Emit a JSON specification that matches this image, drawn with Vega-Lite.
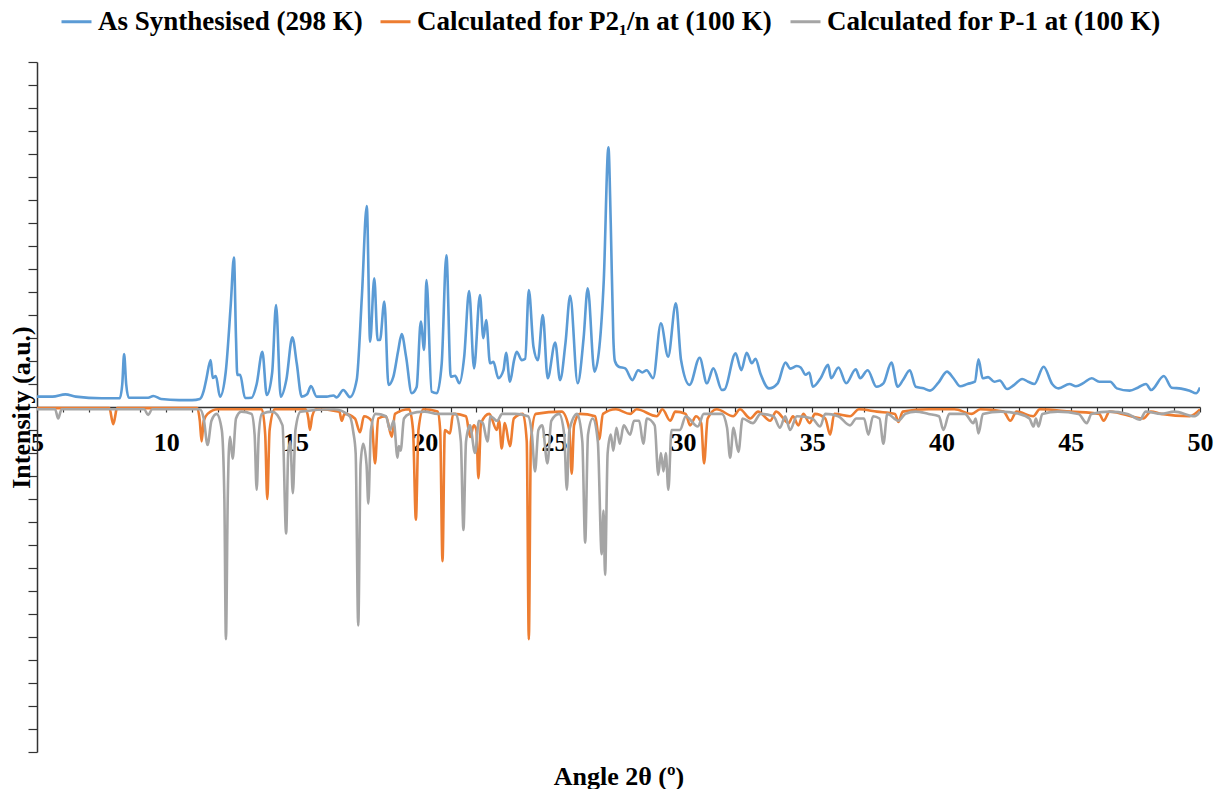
{
  "$schema": "https://vega.github.io/schema/vega-lite/v6.json",
  "width": 1163,
  "height": 690,
  "autosize": {"type": "none"},
  "padding": {"left": 37, "top": 62, "right": 18, "bottom": 37},
  "background": "white",
  "config": {
    "font": "Liberation Serif",
    "view": {"stroke": null},
    "legend": {
      "orient": "none",
      "legendX": 23,
      "legendY": -57,
      "direction": "horizontal",
      "symbolType": "stroke",
      "symbolStrokeWidth": 3,
      "symbolSize": 900,
      "labelFont": "Liberation Serif",
      "labelFontSize": 27,
      "labelFontWeight": "bold",
      "labelColor": "#000000",
      "labelLimit": 600,
      "labelOffset": 5,
      "columnPadding": 11,
      "title": null
    }
  },
  "datasets": {
    "syn": [
      {"x":5.0,"y":0.45},{"x":5.6,"y":0.45},{"x":6.1,"y":0.55},{"x":6.5,"y":0.45},{"x":7.5,"y":0.38},{"x":8.2,"y":0.38},{"x":8.3,"y":1.0},{"x":8.37,"y":2.3},{"x":8.45,"y":1.0},{"x":8.55,"y":0.4},{"x":9.3,"y":0.4},{"x":9.5,"y":0.48},{"x":9.8,"y":0.35},{"x":10.5,"y":0.3},{"x":11.0,"y":0.3},{"x":11.3,"y":0.35},{"x":11.45,"y":0.7},{"x":11.55,"y":1.2},{"x":11.72,"y":2.04},{"x":11.8,"y":1.26},{"x":11.92,"y":1.35},{"x":12.08,"y":0.45},{"x":12.3,"y":1.5},{"x":12.5,"y":4.5},{"x":12.62,"y":6.5},{"x":12.7,"y":3.0},{"x":12.75,"y":1.39},{"x":12.86,"y":1.4},{"x":13.05,"y":0.39},{"x":13.3,"y":0.4},{"x":13.5,"y":1.0},{"x":13.72,"y":2.4},{"x":13.89,"y":0.52},{"x":14.1,"y":1.5},{"x":14.25,"y":4.43},{"x":14.43,"y":0.45},{"x":14.65,"y":1.2},{"x":14.88,"y":3.03},{"x":15.05,"y":1.9},{"x":15.24,"y":0.45},{"x":15.45,"y":0.55},{"x":15.6,"y":0.91},{"x":15.82,"y":0.45},{"x":16.2,"y":0.45},{"x":16.47,"y":0.5},{"x":16.6,"y":0.42},{"x":16.85,"y":0.74},{"x":17.11,"y":0.43},{"x":17.37,"y":1.17},{"x":17.57,"y":4.8},{"x":17.76,"y":8.74},{"x":17.89,"y":2.84},{"x":18.05,"y":5.6},{"x":18.18,"y":2.91},{"x":18.27,"y":2.91},{"x":18.44,"y":4.58},{"x":18.6,"y":0.96},{"x":18.79,"y":1.32},{"x":18.98,"y":2.48},{"x":19.11,"y":3.17},{"x":19.28,"y":2.19},{"x":19.5,"y":0.6},{"x":19.69,"y":0.87},{"x":19.85,"y":3.71},{"x":19.98,"y":2.48},{"x":20.07,"y":5.52},{"x":20.27,"y":0.67},{"x":20.47,"y":0.6},{"x":20.66,"y":1.9},{"x":20.84,"y":6.6},{"x":21.01,"y":1.32},{"x":21.18,"y":1.36},{"x":21.34,"y":1.03},{"x":21.53,"y":2.19},{"x":21.72,"y":5.04},{"x":21.91,"y":1.68},{"x":22.14,"y":4.87},{"x":22.27,"y":2.99},{"x":22.38,"y":3.78},{"x":22.53,"y":1.9},{"x":22.66,"y":1.96},{"x":22.85,"y":1.25},{"x":23.05,"y":1.6},{"x":23.15,"y":2.36},{"x":23.3,"y":1.1},{"x":23.46,"y":2.04},{"x":23.56,"y":2.4},{"x":23.76,"y":2.04},{"x":23.89,"y":2.1},{"x":24.03,"y":5.09},{"x":24.21,"y":2.62},{"x":24.38,"y":2.04},{"x":24.57,"y":4.0},{"x":24.76,"y":1.25},{"x":25.05,"y":2.8},{"x":25.24,"y":1.17},{"x":25.45,"y":2.8},{"x":25.63,"y":4.84},{"x":25.92,"y":1.03},{"x":26.15,"y":3.0},{"x":26.31,"y":5.16},{"x":26.57,"y":1.54},{"x":26.76,"y":2.6},{"x":26.93,"y":5.5},{"x":27.11,"y":11.29},{"x":27.2,"y":8.0},{"x":27.3,"y":3.0},{"x":27.36,"y":2.0},{"x":27.51,"y":1.75},{"x":27.76,"y":1.68},{"x":28.04,"y":1.17},{"x":28.26,"y":1.6},{"x":28.42,"y":1.5},{"x":28.59,"y":1.6},{"x":28.84,"y":1.25},{"x":29.14,"y":3.64},{"x":29.42,"y":2.19},{"x":29.72,"y":4.51},{"x":29.92,"y":2.04},{"x":30.25,"y":0.96},{"x":30.64,"y":2.14},{"x":30.92,"y":1.03},{"x":31.17,"y":1.68},{"x":31.5,"y":0.74},{"x":31.6,"y":0.76},{"x":32.03,"y":2.33},{"x":32.25,"y":1.6},{"x":32.46,"y":2.36},{"x":32.66,"y":1.9},{"x":32.8,"y":2.1},{"x":32.99,"y":1.46},{"x":33.32,"y":0.81},{"x":33.66,"y":1.03},{"x":33.96,"y":1.93},{"x":34.15,"y":1.67},{"x":34.4,"y":1.78},{"x":34.55,"y":1.72},{"x":34.74,"y":1.4},{"x":34.88,"y":1.5},{"x":35.02,"y":0.88},{"x":35.32,"y":1.25},{"x":35.61,"y":1.83},{"x":35.73,"y":1.25},{"x":36.01,"y":1.72},{"x":36.31,"y":1.03},{"x":36.68,"y":1.64},{"x":36.85,"y":1.25},{"x":37.14,"y":1.6},{"x":37.48,"y":0.88},{"x":37.75,"y":1.03},{"x":38.06,"y":1.93},{"x":38.3,"y":0.88},{"x":38.52,"y":1.2},{"x":38.77,"y":1.6},{"x":39.0,"y":0.88},{"x":39.3,"y":0.81},{"x":39.55,"y":0.71},{"x":39.88,"y":1.06},{"x":40.21,"y":1.54},{"x":40.46,"y":1.25},{"x":40.72,"y":0.9},{"x":41.0,"y":1.0},{"x":41.29,"y":1.1},{"x":41.43,"y":2.07},{"x":41.59,"y":1.25},{"x":41.8,"y":1.3},{"x":42.04,"y":1.1},{"x":42.25,"y":1.15},{"x":42.54,"y":0.78},{"x":42.8,"y":0.95},{"x":43.12,"y":1.22},{"x":43.35,"y":1.1},{"x":43.59,"y":1.0},{"x":43.95,"y":1.75},{"x":44.28,"y":1.0},{"x":44.53,"y":0.81},{"x":44.95,"y":1.0},{"x":45.2,"y":0.9},{"x":45.5,"y":1.05},{"x":45.81,"y":1.25},{"x":46.1,"y":1.1},{"x":46.53,"y":1.1},{"x":46.78,"y":0.81},{"x":47.28,"y":0.71},{"x":47.61,"y":0.85},{"x":47.91,"y":1.0},{"x":48.11,"y":0.74},{"x":48.6,"y":1.35},{"x":48.9,"y":0.84},{"x":49.27,"y":0.8},{"x":49.6,"y":0.71},{"x":49.85,"y":0.6},{"x":50.0,"y":0.85}
    ],
    "p21n": [
      {"x":5.0,"y":-0.05},{"x":7.8,"y":-0.05},{"x":7.95,"y":-0.75},{"x":8.1,"y":-0.05},{"x":11.2,"y":-0.05},{"x":11.3,"y":-0.6},{"x":11.37,"y":-1.5},{"x":11.45,"y":-0.6},{"x":11.6,"y":-0.3},{"x":12.0,"y":-0.1},{"x":13.7,"y":-0.1},{"x":13.83,"y":-1.2},{"x":13.91,"y":-4.0},{"x":14.0,"y":-1.0},{"x":14.2,"y":-0.1},{"x":15.4,"y":-0.1},{"x":15.5,"y":-0.5},{"x":15.56,"y":-1.0},{"x":15.65,"y":-0.4},{"x":15.8,"y":-0.1},{"x":16.7,"y":-0.2},{"x":16.79,"y":-0.6},{"x":16.9,"y":-0.3},{"x":17.3,"y":-0.5},{"x":17.5,"y":-1.1},{"x":17.65,"y":-0.4},{"x":17.95,"y":-0.6},{"x":18.08,"y":-2.45},{"x":18.2,"y":-0.5},{"x":18.5,"y":-0.4},{"x":18.73,"y":-1.3},{"x":18.85,"y":-0.3},{"x":19.4,"y":-0.1},{"x":19.55,"y":-1.0},{"x":19.66,"y":-4.9},{"x":19.76,"y":-1.0},{"x":19.95,"y":-0.1},{"x":20.5,"y":-0.2},{"x":20.6,"y":-1.0},{"x":20.69,"y":-6.7},{"x":20.78,"y":-1.0},{"x":20.98,"y":-1.15},{"x":21.1,"y":-0.3},{"x":21.6,"y":-0.4},{"x":21.76,"y":-1.3},{"x":21.9,"y":-0.8},{"x":22.0,"y":-1.0},{"x":22.08,"y":-3.1},{"x":22.18,"y":-0.7},{"x":22.5,"y":-0.3},{"x":22.79,"y":-1.0},{"x":22.88,"y":-0.6},{"x":22.98,"y":-1.8},{"x":23.1,"y":-0.7},{"x":23.3,"y":-1.7},{"x":23.45,"y":-0.5},{"x":23.8,"y":-0.3},{"x":23.95,"y":-1.5},{"x":24.03,"y":-10.1},{"x":24.11,"y":-1.5},{"x":24.3,"y":-0.3},{"x":25.3,"y":-0.2},{"x":25.6,"y":-1.0},{"x":25.69,"y":-2.9},{"x":25.78,"y":-0.8},{"x":26.0,"y":-0.3},{"x":26.6,"y":-0.4},{"x":26.75,"y":-1.4},{"x":26.9,"y":-0.3},{"x":27.4,"y":-0.1},{"x":27.95,"y":-0.3},{"x":28.2,"y":-0.1},{"x":28.98,"y":-0.4},{"x":29.2,"y":-0.1},{"x":29.5,"y":-0.6},{"x":29.7,"y":-0.2},{"x":30.1,"y":-0.3},{"x":30.27,"y":-0.8},{"x":30.5,"y":-0.4},{"x":30.7,"y":-0.7},{"x":30.81,"y":-2.45},{"x":30.95,"y":-0.5},{"x":31.3,"y":-0.1},{"x":31.94,"y":-0.4},{"x":32.2,"y":-0.1},{"x":32.6,"y":-0.5},{"x":32.9,"y":-0.2},{"x":33.37,"y":-0.6},{"x":33.6,"y":-0.2},{"x":34.08,"y":-0.7},{"x":34.25,"y":-0.4},{"x":34.46,"y":-0.8},{"x":34.65,"y":-0.3},{"x":34.9,"y":-0.7},{"x":35.1,"y":-0.3},{"x":35.5,"y":-0.5},{"x":35.69,"y":-1.2},{"x":35.85,"y":-0.3},{"x":36.46,"y":-0.4},{"x":36.8,"y":-0.1},{"x":37.5,"y":-0.2},{"x":38.2,"y":-0.3},{"x":38.33,"y":-0.65},{"x":38.5,"y":-0.2},{"x":39.5,"y":-0.1},{"x":40.5,"y":-0.1},{"x":41.17,"y":-0.3},{"x":41.5,"y":-0.1},{"x":42.4,"y":-0.2},{"x":42.66,"y":-0.6},{"x":42.9,"y":-0.2},{"x":43.55,"y":-0.4},{"x":43.8,"y":-0.1},{"x":45.0,"y":-0.2},{"x":46.1,"y":-0.3},{"x":46.27,"y":-0.6},{"x":46.5,"y":-0.2},{"x":47.81,"y":-0.5},{"x":48.1,"y":-0.2},{"x":48.5,"y":-0.3},{"x":49.6,"y":-0.4},{"x":50.0,"y":-0.1}
    ],
    "p1": [
      {"x":5.0,"y":-0.1},{"x":5.7,"y":-0.1},{"x":5.82,"y":-0.5},{"x":5.95,"y":-0.1},{"x":9.15,"y":-0.1},{"x":9.3,"y":-0.35},{"x":9.45,"y":-0.1},{"x":11.3,"y":-0.1},{"x":11.45,"y":-0.5},{"x":11.6,"y":-1.65},{"x":11.75,"y":-0.6},{"x":11.95,"y":-0.3},{"x":12.15,"y":-1.0},{"x":12.25,"y":-4.0},{"x":12.31,"y":-10.1},{"x":12.38,"y":-4.0},{"x":12.42,"y":-2.0},{"x":12.47,"y":-1.3},{"x":12.57,"y":-2.25},{"x":12.7,"y":-0.5},{"x":12.9,"y":-0.2},{"x":13.3,"y":-0.3},{"x":13.42,"y":-1.2},{"x":13.5,"y":-3.6},{"x":13.58,"y":-1.2},{"x":13.7,"y":-0.3},{"x":14.1,"y":-0.2},{"x":14.5,"y":-0.8},{"x":14.64,"y":-5.5},{"x":14.72,"y":-2.0},{"x":14.8,"y":-1.5},{"x":14.9,"y":-3.75},{"x":15.0,"y":-1.0},{"x":15.2,"y":-0.2},{"x":16.5,"y":-0.1},{"x":17.1,"y":-0.4},{"x":17.24,"y":-1.1},{"x":17.33,"y":-2.0},{"x":17.43,"y":-9.5},{"x":17.52,"y":-2.5},{"x":17.62,"y":-1.6},{"x":17.75,"y":-2.5},{"x":17.82,"y":-4.2},{"x":17.92,"y":-1.0},{"x":18.1,"y":-0.3},{"x":18.5,"y":-0.4},{"x":18.66,"y":-1.0},{"x":18.8,"y":-0.6},{"x":18.95,"y":-2.2},{"x":19.0,"y":-1.7},{"x":19.07,"y":-1.9},{"x":19.2,"y":-0.5},{"x":19.4,"y":-0.3},{"x":20.0,"y":-0.2},{"x":20.5,"y":-0.3},{"x":21.2,"y":-0.3},{"x":21.4,"y":-1.5},{"x":21.5,"y":-5.35},{"x":21.6,"y":-1.5},{"x":21.75,"y":-0.8},{"x":21.95,"y":-2.0},{"x":22.1,"y":-0.6},{"x":22.25,"y":-0.7},{"x":22.43,"y":-1.5},{"x":22.55,"y":-0.4},{"x":22.8,"y":-0.6},{"x":23.0,"y":-0.3},{"x":23.5,"y":-0.3},{"x":24.0,"y":-0.4},{"x":24.15,"y":-1.2},{"x":24.27,"y":-2.8},{"x":24.4,"y":-1.0},{"x":24.55,"y":-0.8},{"x":24.75,"y":-2.45},{"x":24.9,"y":-0.6},{"x":25.2,"y":-0.3},{"x":25.4,"y":-1.2},{"x":25.5,"y":-3.6},{"x":25.6,"y":-1.0},{"x":25.9,"y":-0.3},{"x":26.1,"y":-1.5},{"x":26.21,"y":-5.9},{"x":26.32,"y":-1.2},{"x":26.5,"y":-0.5},{"x":26.7,"y":-1.5},{"x":26.85,"y":-6.4},{"x":26.92,"y":-4.5},{"x":26.98,"y":-7.3},{"x":27.08,"y":-2.0},{"x":27.2,"y":-1.2},{"x":27.3,"y":-1.9},{"x":27.42,"y":-0.9},{"x":27.55,"y":-1.6},{"x":27.7,"y":-0.8},{"x":27.95,"y":-1.2},{"x":28.1,"y":-0.6},{"x":28.3,"y":-0.6},{"x":28.46,"y":-1.6},{"x":28.6,"y":-0.5},{"x":28.9,"y":-0.8},{"x":29.04,"y":-2.95},{"x":29.14,"y":-2.0},{"x":29.24,"y":-2.8},{"x":29.33,"y":-2.0},{"x":29.43,"y":-3.6},{"x":29.55,"y":-1.0},{"x":29.88,"y":-1.0},{"x":30.1,"y":-0.4},{"x":30.57,"y":-0.85},{"x":30.8,"y":-0.3},{"x":31.5,"y":-0.3},{"x":31.7,"y":-0.9},{"x":31.82,"y":-2.2},{"x":31.95,"y":-0.9},{"x":32.14,"y":-1.95},{"x":32.3,"y":-0.5},{"x":32.7,"y":-0.7},{"x":33.0,"y":-0.3},{"x":33.5,"y":-0.4},{"x":33.75,"y":-0.9},{"x":33.95,"y":-0.4},{"x":34.14,"y":-1.0},{"x":34.4,"y":-0.4},{"x":35.0,"y":-0.5},{"x":35.3,"y":-0.85},{"x":35.5,"y":-0.3},{"x":36.0,"y":-0.4},{"x":36.46,"y":-0.8},{"x":36.7,"y":-0.5},{"x":37.0,"y":-0.5},{"x":37.17,"y":-1.2},{"x":37.35,"y":-0.4},{"x":37.6,"y":-0.5},{"x":37.75,"y":-1.6},{"x":37.9,"y":-0.3},{"x":38.33,"y":-0.6},{"x":38.6,"y":-0.3},{"x":39.0,"y":-0.2},{"x":39.5,"y":-0.3},{"x":39.9,"y":-0.4},{"x":40.07,"y":-1.0},{"x":40.3,"y":-0.3},{"x":40.9,"y":-0.3},{"x":41.23,"y":-0.7},{"x":41.32,"y":-0.5},{"x":41.43,"y":-1.15},{"x":41.6,"y":-0.3},{"x":42.3,"y":-0.2},{"x":43.0,"y":-0.3},{"x":43.4,"y":-0.5},{"x":43.56,"y":-0.85},{"x":43.65,"y":-0.5},{"x":43.75,"y":-0.85},{"x":43.9,"y":-0.3},{"x":44.5,"y":-0.2},{"x":45.3,"y":-0.3},{"x":45.62,"y":-0.7},{"x":45.8,"y":-0.3},{"x":46.5,"y":-0.2},{"x":47.2,"y":-0.3},{"x":47.68,"y":-0.55},{"x":47.9,"y":-0.2},{"x":48.5,"y":-0.3},{"x":49.0,"y":-0.2},{"x":49.8,"y":-0.4},{"x":50.0,"y":-0.2}
    ]
  },
  "encoding": {
    "x": {
      "field": "x",
      "type": "quantitative",
      "scale": {"domain": [5, 50], "nice": false, "zero": false},
      "axis": {
        "title": "Angle 2θ (º)",
        "titleFont": "Liberation Serif",
        "titleFontSize": 26,
        "titleFontWeight": "bold",
        "titleColor": "#000000",
        "titleX": 581.5,
        "titleY": 377,
        "titleBaseline": "alphabetic",
        "titleAlign": "center",
        "offset": -345,
        "values": [5,6,7,8,9,10,11,12,13,14,15,16,17,18,19,20,21,22,23,24,25,26,27,28,29,30,31,32,33,34,35,36,37,38,39,40,41,42,43,44,45,46,47,48,49,50],
        "labelExpr": "datum.value % 5 === 0 ? datum.label : ''",
        "labelFont": "Liberation Serif",
        "labelFontSize": 26,
        "labelFontWeight": "bold",
        "labelColor": "#000000",
        "labelPadding": 17,
        "labelOverlap": false,
        "labelFlush": false,
        "labelBound": false,
        "tickSize": 5,
        "tickColor": "#333333",
        "tickWidth": 1.2,
        "domainColor": "#333333",
        "domainWidth": 1.5,
        "grid": false
      }
    },
    "y": {
      "field": "y",
      "type": "quantitative",
      "scale": {"domain": [-15, 15], "nice": false},
      "axis": {
        "title": "Intensity (a.u.)",
        "titleFont": "Liberation Serif",
        "titleFontSize": 26,
        "titleFontWeight": "bold",
        "titleColor": "#000000",
        "titleX": -8,
        "titleY": 345,
        "titleAngle": 270,
        "titleAlign": "center",
        "titleBaseline": "alphabetic",
        "values": [-15,-14,-13,-12,-11,-10,-9,-8,-7,-6,-5,-4,-3,-2,-1,0,1,2,3,4,5,6,7,8,9,10,11,12,13,14,15],
        "labels": false,
        "tickSize": 9,
        "tickColor": "#333333",
        "tickWidth": 1.2,
        "domainColor": "#333333",
        "domainWidth": 1.5,
        "grid": false
      }
    }
  },
  "layer": [
    {
      "data": {"name": "syn"},
      "mark": {"type": "line", "strokeWidth": 2.6, "clip": true, "interpolate": "monotone"},
      "encoding": {
        "color": {
          "datum": "As Synthesised (298 K)",
          "type": "nominal",
          "scale": {
            "domain": ["As Synthesised (298 K)", "Calculated for P2₁/n at (100 K)", "Calculated for P-1 at (100 K)"],
            "range": ["#5B9BD5", "#ED7D31", "#A5A5A5"]
          }
        }
      }
    },
    {
      "data": {"name": "p21n"},
      "mark": {"type": "line", "strokeWidth": 2.6, "clip": true, "interpolate": "monotone"},
      "encoding": {"color": {"datum": "Calculated for P2₁/n at (100 K)", "type": "nominal"}}
    },
    {
      "data": {"name": "p1"},
      "mark": {"type": "line", "strokeWidth": 2.6, "clip": true, "interpolate": "monotone"},
      "encoding": {"color": {"datum": "Calculated for P-1 at (100 K)", "type": "nominal"}}
    }
  ]
}
